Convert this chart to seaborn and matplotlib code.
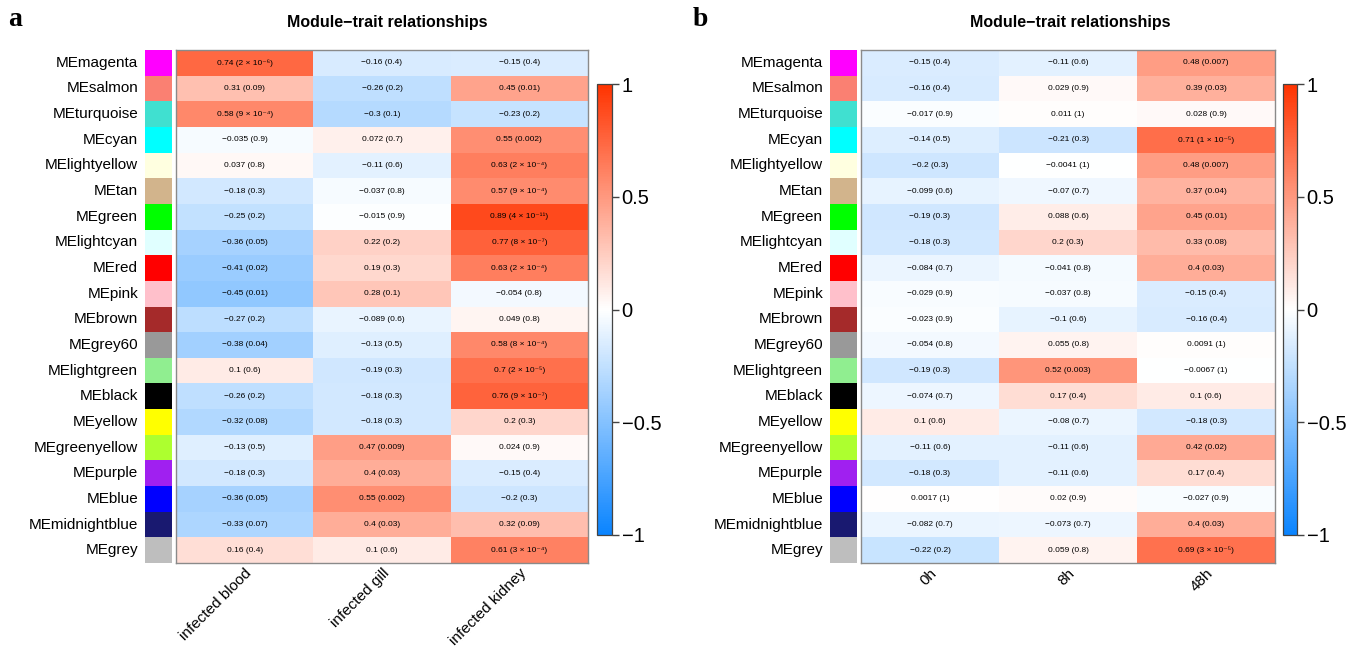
import numpy as np
import pandas as pd
import matplotlib
matplotlib.use("Agg")
import matplotlib.pyplot as plt
from matplotlib.colors import LinearSegmentedColormap, ListedColormap
import seaborn as sns

sns.set_theme(style="white")
plt.rcParams["font.family"] = ["Liberation Sans", "DejaVu Sans"]
plt.rcParams.update({"text.color": "black", "axes.labelcolor": "black",
                     "xtick.color": "black", "ytick.color": "black"})

# ---- data -------------------------------------------------------------
modules = ["magenta", "salmon", "turquoise", "cyan", "lightyellow", "tan",
           "green", "lightcyan", "red", "pink", "brown", "grey60",
           "lightgreen", "black", "yellow", "greenyellow", "purple", "blue",
           "midnightblue", "grey"]
module_hex = ["#FF00FF", "#FA8072", "#40E0D0", "#00FFFF", "#FFFFE0", "#D2B48C",
              "#00FF00", "#E0FFFF", "#FF0000", "#FFC0CB", "#A52A2A", "#999999",
              "#90EE90", "#000000", "#FFFF00", "#ADFF2F", "#A020F0", "#0000FF",
              "#191970", "#BEBEBE"]

traits_a = ["infected blood", "infected gill", "infected kidney"]
cor_blood = [0.74, 0.31, 0.58, -0.035, 0.037, -0.18, -0.25, -0.36, -0.41, -0.45,
             -0.27, -0.38, 0.1, -0.26, -0.32, -0.13, -0.18, -0.36, -0.33, 0.16]
p_blood = [2e-6, 0.09, 9e-4, 0.9, 0.8, 0.3, 0.2, 0.05, 0.02, 0.01,
           0.2, 0.04, 0.6, 0.2, 0.08, 0.5, 0.3, 0.05, 0.07, 0.4]
cor_gill = [-0.16, -0.26, -0.3, 0.072, -0.11, -0.037, -0.015, 0.22, 0.19, 0.28,
            -0.089, -0.13, -0.19, -0.18, -0.18, 0.47, 0.4, 0.55, 0.4, 0.1]
p_gill = [0.4, 0.2, 0.1, 0.7, 0.6, 0.8, 0.9, 0.2, 0.3, 0.1,
          0.6, 0.5, 0.3, 0.3, 0.3, 0.009, 0.03, 0.002, 0.03, 0.6]
cor_kidney = [-0.15, 0.45, -0.23, 0.55, 0.63, 0.57, 0.89, 0.77, 0.63, -0.054,
              0.049, 0.58, 0.7, 0.76, 0.2, 0.024, -0.15, -0.2, 0.32, 0.61]
p_kidney = [0.4, 0.01, 0.2, 0.002, 2e-4, 9e-4, 4e-11, 8e-7, 2e-4, 0.8,
            0.8, 8e-4, 2e-5, 9e-7, 0.3, 0.9, 0.4, 0.3, 0.09, 3e-4]

traits_b = ["0h", "8h", "48h"]
cor_0h = [-0.15, -0.16, -0.017, -0.14, -0.2, -0.099, -0.19, -0.18, -0.084, -0.029,
          -0.023, -0.054, -0.19, -0.074, 0.1, -0.11, -0.18, 0.0017, -0.082, -0.22]
p_0h = [0.4, 0.4, 0.9, 0.5, 0.3, 0.6, 0.3, 0.3, 0.7, 0.9,
        0.9, 0.8, 0.3, 0.7, 0.6, 0.6, 0.3, 1, 0.7, 0.2]
cor_8h = [-0.11, 0.029, 0.011, -0.21, -0.0041, -0.07, 0.088, 0.2, -0.041, -0.037,
          -0.1, 0.055, 0.52, 0.17, -0.08, -0.11, -0.11, 0.02, -0.073, 0.059]
p_8h = [0.6, 0.9, 1, 0.3, 1, 0.7, 0.6, 0.3, 0.8, 0.8,
        0.6, 0.8, 0.003, 0.4, 0.7, 0.6, 0.6, 0.9, 0.7, 0.8]
cor_48h = [0.48, 0.39, 0.028, 0.71, 0.48, 0.37, 0.45, 0.33, 0.4, -0.15,
           -0.16, 0.0091, -0.0067, 0.1, -0.18, 0.42, 0.17, -0.027, 0.4, 0.69]
p_48h = [0.007, 0.03, 0.9, 1e-5, 0.007, 0.04, 0.01, 0.08, 0.03, 0.4,
         0.4, 1, 1, 0.6, 0.3, 0.02, 0.4, 0.9, 0.03, 3e-5]

cbar_ticks = [-1, -0.5, 0, 0.5, 1]

# ---- helpers ----------------------------------------------------------
SUP = str.maketrans("-0123456789", "⁻⁰¹²³⁴⁵⁶⁷⁸⁹")


def fmt_r(v):
    return f"{v:.2g}".replace("-", "−")


def fmt_p(p):
    if p < 1e-3:
        mant, ex = f"{p:.0e}".split("e")
        return f"{mant} × 10{str(int(ex)).translate(SUP)}"
    return f"{p:.1g}"


cmap = LinearSegmentedColormap.from_list("bwr_wgcna", ["#0A84FF", "#FFFFFF", "#FF3300"])

W, H = 1354, 657
fig = plt.figure(figsize=(W / 100, H / 100), dpi=100)


def box(x0, y0, x1, y1):
    return [x0 / W, 1 - y1 / H, (x1 - x0) / W, (y1 - y0) / H]


def panel(xs, traits, cors, ps, letter, title, title_x, letter_x):
    sw_ax = fig.add_axes(box(*xs[0]))
    hm_ax = fig.add_axes(box(*xs[1]))
    cb_ax = fig.add_axes(box(*xs[2]))

    labels = ["ME" + m for m in modules]
    cor_df = pd.DataFrame(np.column_stack(cors), index=labels, columns=traits)
    annot = np.array([[f"{fmt_r(r)} ({fmt_p(p)})" for r, p in zip(rc, pc)]
                      for rc, pc in zip(cors, ps)]).T

    # module colour strip
    idx = pd.DataFrame(np.arange(len(modules))[:, None], index=labels, columns=["m"])
    sns.heatmap(idx, ax=sw_ax, cmap=ListedColormap(module_hex), cbar=False,
                xticklabels=False, yticklabels=True, linewidths=0)
    sw_ax.set_ylabel("")
    sw_ax.tick_params(axis="y", length=0, labelsize=11, pad=5, rotation=0)

    # correlation heatmap
    sns.heatmap(cor_df, ax=hm_ax, cmap=cmap, vmin=-1, vmax=1, annot=annot, fmt="",
                annot_kws={"fontsize": 6, "color": "black"},
                yticklabels=False, cbar_ax=cb_ax,
                cbar_kws={"ticks": cbar_ticks})
    for s in hm_ax.spines.values():
        s.set_visible(True)
        s.set_color("#8a8a8a")
        s.set_linewidth(1.0)
    hm_ax.tick_params(axis="x", length=0, labelsize=11, pad=2)
    plt.setp(hm_ax.get_xticklabels(), rotation=45, ha="right", va="top",
             rotation_mode="anchor", color="black")

    cbar = hm_ax.collections[0].colorbar
    cbar.set_ticks(cbar_ticks, labels=[fmt_r(t) for t in cbar_ticks])
    cb_ax.tick_params(axis="y", length=5, width=1, color="#444444",
                      labelsize=14.5, pad=2, right=True, direction="out")
    cbar.outline.set_visible(True)
    cbar.outline.set_edgecolor("#444444")
    cbar.outline.set_linewidth(0.9)

    fig.text(title_x / W, 1 - 22 / H, title, ha="center", va="center",
             fontsize=11.5, fontweight="bold")
    fig.text(letter_x / W, 1 - 19 / H, letter, ha="left", va="center",
             fontsize=20, fontweight="bold", family="Liberation Serif")


panel([(145, 50, 172, 563), (176, 50, 588, 563), (597, 84, 612, 535)],
      traits_a, [cor_blood, cor_gill, cor_kidney], [p_blood, p_gill, p_kidney],
      "a", "Module−trait relationships", 387, 8)
panel([(830, 50, 857, 563), (861, 50, 1275, 563), (1283, 84, 1297, 535)],
      traits_b, [cor_0h, cor_8h, cor_48h], [p_0h, p_8h, p_48h],
      "b", "Module−trait relationships", 1070, 693)

fig.savefig("out.png", dpi=100)
